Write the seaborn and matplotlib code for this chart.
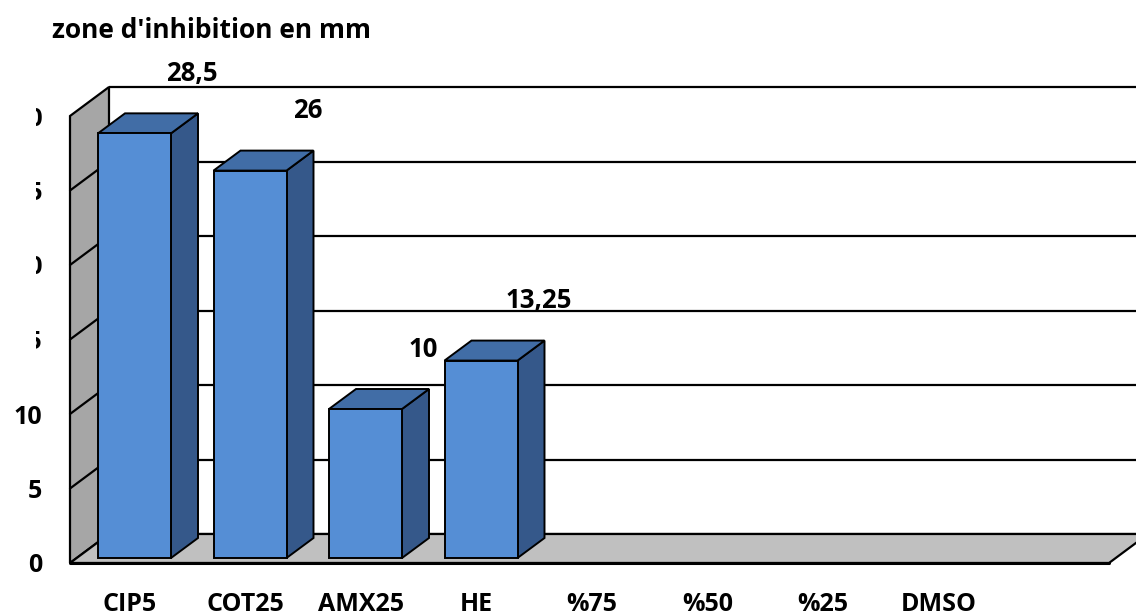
import matplotlib
matplotlib.use("Agg")
import matplotlib.pyplot as plt
from matplotlib.patches import Polygon, Rectangle
import seaborn as sns
import pandas as pd

# ---- data ----
categories = ["CIP5", "COT25", "AMX25", "HE", "%75", "%50", "%25", "DMSO"]
values = [28.5, 26, 10, 13.25, 0, 0, 0, 0]
y_ticks = [0, 5, 10, 15, 20, 25, 30]
title = "zone d'inhibition en mm"

df = pd.DataFrame({"cat": categories, "val": values})

sns.set_theme(style="white")
FONT = ["Open Sans", "DejaVu Sans"]
plt.rcParams["font.family"] = FONT
plt.rcParams["font.weight"] = "bold"
plt.rcParams["text.color"] = "black"
plt.rcParams["xtick.color"] = "black"
plt.rcParams["ytick.color"] = "black"

W, H = 1136, 616
fig = plt.figure(figsize=(W / 100, H / 100), dpi=100)
fig.patch.set_facecolor("white")

# pixel-based geometry of the pseudo-3D frame
cat0_px, cat_step_px = 134.5, 115.5
px_per_unit = 14.9
bar_base_py = 558
ax_left_px, ax_right_px, ax_bot_py, ax_top_py = 70, 1136, 563, 86
ax = fig.add_axes([ax_left_px / W, 1 - ax_bot_py / H,
                   (ax_right_px - ax_left_px) / W, (ax_bot_py - ax_top_py) / H])
ax.set_facecolor("none")

xlim = ((ax_left_px - cat0_px) / cat_step_px, (ax_right_px - cat0_px) / cat_step_px)
ylim = (-(ax_bot_py - bar_base_py) / px_per_unit, (bar_base_py - ax_top_py) / px_per_unit)

FRONT_C = "#558ed5"
TOP_C = "#416da6"
SIDE_C = "#35588a"

sns.barplot(data=df, x="cat", y="val", order=categories, color=FRONT_C,
            width=73 / cat_step_px, saturation=1, ax=ax, zorder=5,
            edgecolor="black", linewidth=1.4, errorbar=None)
ax.set_xlim(*xlim)
ax.set_ylim(*ylim)

# depth offsets (data units)
wdx, wdy = 39 / cat_step_px, 29 / px_per_unit        # wall depth
bdx, bdy = 27 / cat_step_px, 20 / px_per_unit        # bar depth
front0 = ylim[0]                                      # front floor edge (value 0)
back0 = front0 + wdy                                  # back floor edge
xL = xlim[0]
xR_front = (1109 - cat0_px) / cat_step_px
top_val = max(y_ticks)

lw = 1.6
# back wall gridlines
for v in y_ticks:
    ax.plot([xL + wdx, xlim[1] + 1], [back0 + v, back0 + v], color="black",
            lw=lw, zorder=1, clip_on=False, solid_capstyle="butt")
# left wall
ax.add_patch(Polygon([(xL, front0), (xL, front0 + top_val), (xL + wdx, back0 + top_val),
                      (xL + wdx, back0)], closed=True, facecolor="#a6a6a6",
                     edgecolor="black", lw=lw, zorder=2, clip_on=False))
for v in y_ticks[1:-1]:
    ax.plot([xL, xL + wdx], [front0 + v, back0 + v], color="black", lw=lw,
            zorder=2.5, clip_on=False)
# floor
ax.add_patch(Polygon([(xL, front0), (xR_front, front0), (xR_front + wdx, back0),
                      (xL + wdx, back0)], closed=True, facecolor="#c0c0c0",
                     edgecolor="black", lw=lw, zorder=2, clip_on=False))
ax.plot([xL, xR_front], [front0, front0], color="black", lw=2.2, zorder=2.6, clip_on=False)

# 3D faces of bars derived from seaborn bars
for p, v in zip(ax.patches[:len(values)], values):
    h = p.get_height()
    if h <= 0:
        p.set_visible(False)
        continue
    x0, w = p.get_x(), p.get_width()
    ax.add_patch(Polygon([(x0 + w, 0), (x0 + w, h), (x0 + w + bdx, h + bdy),
                          (x0 + w + bdx, bdy)], closed=True, facecolor=SIDE_C,
                         edgecolor="black", lw=1.4, zorder=4, clip_on=False))
    ax.add_patch(Polygon([(x0, h), (x0 + w, h), (x0 + w + bdx, h + bdy),
                          (x0 + bdx, h + bdy)], closed=True, facecolor=TOP_C,
                         edgecolor="black", lw=1.4, zorder=4, clip_on=False))
    ax.text(x0 + w / 2 + 0.5, h + 4.0, f"{v:g}".replace(".", ","), ha="center",
            va="center", fontsize=18.5, fontweight="bold", family=FONT,
            color="black", zorder=6)

# axes cosmetics
for s in ax.spines.values():
    s.set_visible(False)
ax.set_xlabel("")
ax.set_ylabel("")
ax.set_xticks([i - 0.04 for i in range(len(categories))])
ax.set_xticklabels(categories, fontsize=18, fontweight="bold", family=FONT)
ax.set_yticks([front0 + v for v in y_ticks])
ax.set_yticklabels([str(v) for v in y_ticks], fontsize=18, fontweight="bold", family=FONT)
ax.tick_params(axis="x", length=0, pad=21, colors="black")
ax.tick_params(axis="y", length=0, pad=20, colors="black")
ax.grid(False)

fig.text(52 / W, 1 - 30 / H, title, ha="left", va="center", fontsize=19,
         fontweight="bold", family=FONT, color="black")

# mask reproducing the clipped tick labels on the left
fig.patches.append(Rectangle((0, 1 - 375 / H), 36 / W, (375 - 90) / H,
                             transform=fig.transFigure, facecolor="white",
                             edgecolor="none", zorder=10))

fig.savefig("out.png", dpi=100)
